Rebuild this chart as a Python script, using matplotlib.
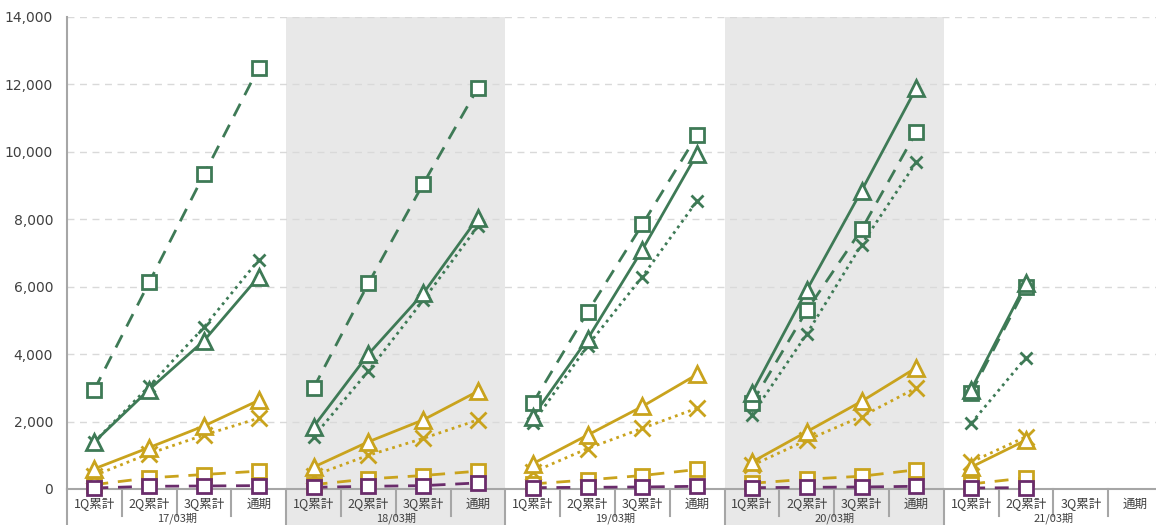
import numpy as np
import matplotlib.pyplot as plt
from matplotlib.patches import Rectangle

plt.rcParams['font.family'] = ['DejaVu Sans', 'Noto Sans CJK JP']

periods = ['17/03期', '18/03期', '19/03期', '20/03期', '21/03期']
quarters = ['1Q累計', '2Q累計', '3Q累計', '通期']
nan = np.nan

# green
green_sq = [2950, 6130, 9330, 12500, 3000, 6100, 9050, 11900, 2550, 5250, 7850, 10500,
            2550, 5300, 7700, 10600, 2850, 6000, nan, nan]
green_tri = [1400, 2950, 4400, 6300, 1850, 4000, 5800, 8050, 2150, 4450, 7100, 9950,
             2850, 5900, 8850, 11900, 2950, 6100, nan, nan]
green_x = [1400, 3050, 4800, 6800, 1550, 3500, 5600, 7800, 1950, 4250, 6300, 8550,
           2200, 4600, 7250, 9700, 1950, 3900, nan, nan]
# gold
gold_tri = [600, 1230, 1870, 2630, 650, 1400, 2050, 2900, 750, 1600, 2450, 3400,
            800, 1700, 2600, 3600, 650, 1450, nan, nan]
gold_x = [400, 1050, 1600, 2100, 400, 1000, 1500, 2050, 500, 1200, 1800, 2400,
          700, 1450, 2150, 3000, 800, 1550, nan, nan]
gold_sq = [130, 330, 430, 530, 130, 300, 400, 530, 150, 270, 400, 580,
           170, 290, 380, 570, 150, 330, nan, nan]
# purple
purple_sq = [30, 80, 90, 100, 50, 80, 100, 180, 40, 50, 60, 80,
             40, 50, 60, 80, 30, 40, nan, nan]

GREEN = '#3e7a56'
GOLD = '#c9a31d'
PURPLE = '#6a2c6b'

fig = plt.figure(figsize=(11.56, 5.25), dpi=100)
ax = fig.add_axes([67 / 1156, 36 / 525, 1096 / 1156, 472 / 525])

n = len(periods) * len(quarters)
ax.set_xlim(-0.5, n - 0.5)
ax.set_ylim(0, 14000)

# shaded periods
for g in (1, 3):
    ax.add_patch(Rectangle((g * 4 - 0.5, -0.2), 4, 1.2, transform=ax.get_xaxis_transform(),
                           facecolor='#e8e8e8', edgecolor='none', zorder=0, clip_on=False))

for yv in range(2000, 14001, 2000):
    ax.axhline(yv, color='#d9d9d9', lw=1, ls=(0, (5, 4)), zorder=1)

series = [
    (green_sq, GREEN, (0, (5, 3.5)), 's', 10),
    (green_x, GREEN, (0, (1, 1.5)), 'x', 9),
    (green_tri, GREEN, '-', '^', 11.5),
    (gold_sq, GOLD, (0, (5, 3.5)), 's', 10),
    (gold_x, GOLD, (0, (1, 1.5)), 'x', 11),
    (gold_tri, GOLD, '-', '^', 11.5),
    (purple_sq, PURPLE, (0, (5, 3.5)), 's', 10),
]

for vals, col, ls, mk, size in series:
    vals = np.array(vals, dtype=float)
    for g in range(len(periods)):
        xs = np.arange(g * 4, g * 4 + 4)
        ys = vals[g * 4:g * 4 + 4]
        ax.plot(xs, ys, color=col, lw=2, ls=ls, zorder=3, clip_on=False)
        if mk == 'x':
            ax.plot(xs, ys, ls='none', marker='x', ms=size, mew=2, color=col, zorder=4,
                    clip_on=False)
        else:
            ax.plot(xs, ys, ls='none', marker=mk, ms=size, mew=2,
                    mec=col, mfc='white', zorder=4, clip_on=False)

ax.set_yticks(range(0, 14001, 2000))
ax.set_yticklabels([f'{v:,}' for v in range(0, 14001, 2000)])
ax.tick_params(axis='y', length=0, labelsize=10, labelcolor='#404040', pad=10)
ax.set_xticks([])

for s in ('top', 'right'):
    ax.spines[s].set_visible(False)
ax.spines['left'].set_color('#a6a6a6')
ax.spines['bottom'].set_color('#a6a6a6')
ax.spines['left'].set_linewidth(1.5)
ax.spines['bottom'].set_linewidth(1.5)

trans = ax.get_xaxis_transform()
px = 1 / 472
for k in range(n + 1):
    x = k - 0.5
    length = 60 if k % 4 == 0 else 27
    ax.plot([x, x], [0, -length * px], transform=trans, color='#a6a6a6', lw=1.5,
            clip_on=False, zorder=2)

for i in range(n):
    ax.text(i, -15 * px, quarters[i % 4], transform=trans, ha='center', va='center',
            fontsize=9, color='#404040', family=['Noto Sans CJK JP', 'DejaVu Sans'])
for g, p in enumerate(periods):
    ax.text(g * 4 + 1.5, -35.5 * px, p, transform=trans, ha='center', va='bottom',
            fontsize=8, color='#404040', family=['Noto Sans CJK JP', 'DejaVu Sans'])

fig.savefig('out.png', dpi=100)
